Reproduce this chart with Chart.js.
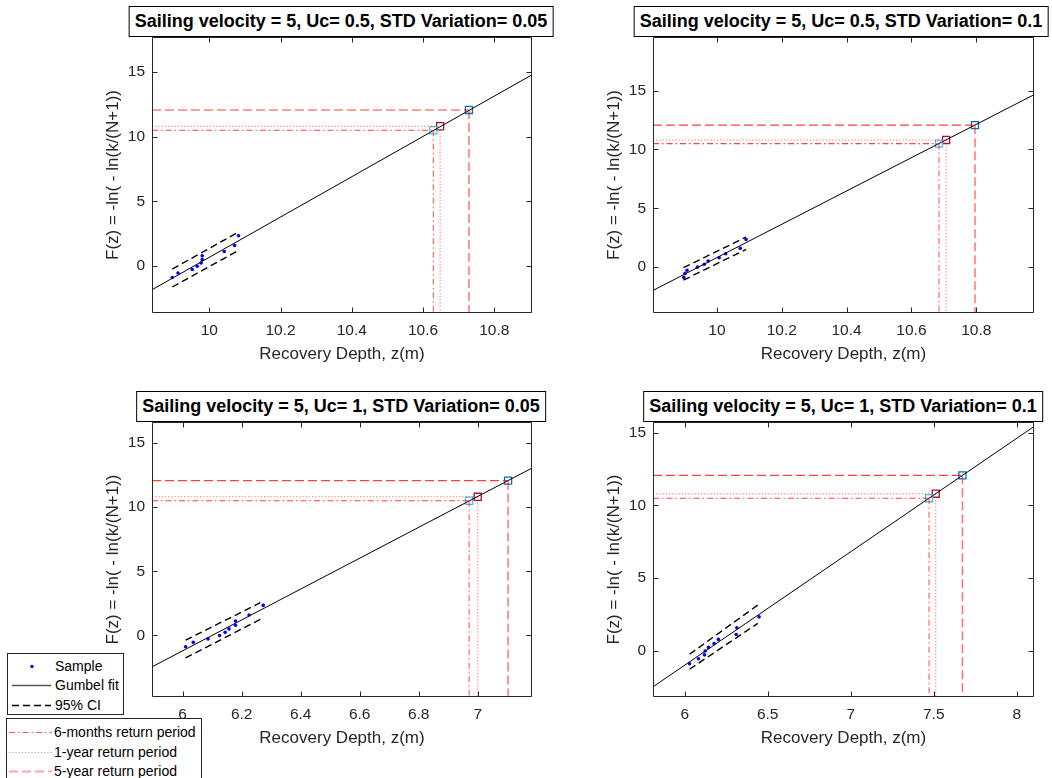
<!DOCTYPE html>
<html><head><meta charset="utf-8">
<script src="https://cdn.jsdelivr.net/npm/chart.js@4.4.1/dist/chart.umd.min.js"></script>
<style>
body{margin:0;width:1052px;height:778px;position:relative;overflow:hidden;background:#fff;font-family:"Liberation Sans",Arial,sans-serif}
.cw{position:absolute}
.title{position:absolute;transform:translateX(-50%);border:1px solid #000;background:#fff;font-weight:bold;font-size:18px;white-space:nowrap;height:31px;box-sizing:border-box;line-height:29px;padding:0 5px;color:#000}
.legend{position:absolute;border:1px solid #262626;background:#fff;font-size:14px;color:#000;box-sizing:border-box}
.legend span{position:absolute;line-height:16px;white-space:nowrap}
</style></head><body>
<div class="cw" id="w1"><canvas id="c1"></canvas></div>
<div class="cw" id="w2"><canvas id="c2"></canvas></div>
<div class="cw" id="w3"><canvas id="c3"></canvas></div>
<div class="cw" id="w4"><canvas id="c4"></canvas></div>

<div class="title" style="left:341px;top:6px">Sailing velocity = 5, Uc= 0.5, STD Variation= 0.05</div>
<div class="title" style="left:841px;top:6px">Sailing velocity = 5, Uc= 0.5, STD Variation= 0.1</div>
<div class="title" style="left:341px;top:391px">Sailing velocity = 5, Uc= 1, STD Variation= 0.05</div>
<div class="title" style="left:843px;top:391px">Sailing velocity = 5, Uc= 1, STD Variation= 0.1</div>

<div class="legend" style="left:7px;top:653px;width:117px;height:62px">
<svg width="117" height="62" style="position:absolute;left:0;top:0">
<circle cx="24" cy="12.5" r="1.7" fill="#0000ff"/>
<line x1="4" y1="31.5" x2="43" y2="31.5" stroke="#555" stroke-width="1.6"/>
<line x1="4" y1="51.5" x2="43" y2="51.5" stroke="#000" stroke-width="1.5" stroke-dasharray="7,4"/>
</svg>
<span style="left:47px;top:4px">Sample</span>
<span style="left:47px;top:23px">Gumbel fit</span>
<span style="left:47px;top:43px">95% CI</span>
</div>
<div class="legend" style="left:6px;top:718px;width:196px;height:64px">
<svg width="196" height="64" style="position:absolute;left:0;top:0">
<line x1="2" y1="13.5" x2="45" y2="13.5" stroke="rgba(255,0,0,0.65)" stroke-width="1.2" stroke-dasharray="6,3,1.5,3"/>
<line x1="2" y1="33.5" x2="45" y2="33.5" stroke="rgba(255,0,0,0.45)" stroke-width="1.2" stroke-dasharray="1.2,2"/>
<line x1="2" y1="52.5" x2="45" y2="52.5" stroke="rgba(255,0,0,0.35)" stroke-width="2" stroke-dasharray="9,4"/>
</svg>
<span style="left:47px;top:5px">6-months return period</span>
<span style="left:47px;top:25px">1-year return period</span>
<span style="left:47px;top:44px">5-year return period</span>
</div>

<script>
// ---------- data ----------
const sampleF = [-0.88, -0.54, -0.27, -0.01, 0.24, 0.51, 0.79, 1.13, 1.59, 2.34];
const returnF = [10.50, 10.81, 12.07];           // 6-months, 1-year, 5-year levels

// Panel 1: Uc=0.5, STD=0.05
const xRange1 = [9.839, 10.906], yRange1 = [-3.63, 17.71];
const xTicks1 = [10, 10.2, 10.4, 10.6, 10.8], yTicks1 = [0, 5, 10, 15];
const sampleX1 = [9.896, 9.912, 9.952, 9.966, 9.977, 9.980, 9.980, 10.042, 10.071, 10.082];
const fitY1 = [-1.83, 14.79];
const ciX1 = [9.896, 10.082], ciUp1 = [-0.23, 2.63], ciLo1 = [-1.62, 1.21];
const returnX1 = [10.629, 10.648, 10.729];

// Panel 2: Uc=0.5, STD=0.1
const xRange2 = [9.803, 10.978], yRange2 = [-3.91, 19.57];
const xTicks2 = [10, 10.2, 10.4, 10.6, 10.8], yTicks2 = [0, 5, 10, 15];
const sampleX2 = [9.898, 9.902, 9.908, 9.940, 9.961, 9.973, 10.007, 10.027, 10.072, 10.090];
const fitY2 = [-1.99, 14.66];
const ciX2 = [9.897, 10.090], ciUp2 = [-0.06, 2.55], ciLo2 = [-1.11, 1.50];
const returnX2 = [10.685, 10.707, 10.796];

// Panel 3: Uc=1, STD=0.05
const xRange3 = [5.896, 7.184], yRange3 = [-4.80, 16.64];
const xTicks3 = [6, 6.2, 6.4, 6.6, 6.8, 7], yTicks3 = [0, 5, 10, 15];
const sampleX3 = [6.010, 6.036, 6.086, 6.125, 6.144, 6.157, 6.179, 6.179, 6.225, 6.273];
const fitY3 = [-2.45, 13.05];
const ciX3 = [6.010, 6.263], ciUp3 = [-0.37, 2.55], ciLo3 = [-1.75, 1.25];
const returnX3 = [6.971, 7.000, 7.103];

// Panel 4: Uc=1, STD=0.1
const xRange4 = [5.809, 8.104], yRange4 = [-3.17, 15.74];
const xTicks4 = [6, 6.5, 7, 7.5, 8], yTicks4 = [0, 5, 10, 15];
const sampleX4 = [6.029, 6.083, 6.119, 6.123, 6.143, 6.177, 6.203, 6.310, 6.314, 6.448];
const fitY4 = [-2.47, 15.43];
const ciX4 = [6.029, 6.440], ciUp4 = [-0.23, 3.15], ciLo4 = [-1.26, 1.89];
const returnX4 = [7.472, 7.512, 7.673];

const xLabel = 'Recovery Depth, z(m)';
const yLabel = 'F(z) = -ln( - ln(k/(N+1))';

// ---------- styling / layout ----------
const FONT = '"Liberation Sans", Arial, sans-serif';
const TXT = '#262626';
const PADL = 52, PADB = 52, PADT = 22, PADR = 14;
const retColors = ['#4DBEEE', '#A2142F', '#0072BD'];
const retDash = [[6,3,1.5,3], [1.2,2], [9,4]];
const retH = ['rgba(255,0,0,0.75)', 'rgba(255,0,0,0.55)', 'rgba(255,0,0,0.75)'];
const retV = ['rgba(255,0,0,0.6)', 'rgba(255,0,0,0.5)', 'rgba(255,0,0,0.55)'];

const boxPlugin = {
  id: 'mbox',
  afterDraw(chart) {
    const {ctx, chartArea: a, scales: {x, y}} = chart;
    ctx.save();
    ctx.strokeStyle = TXT; ctx.lineWidth = 1;
    const l = Math.round(a.left) + 0.5, r = Math.round(a.right) - 0.5;
    const t = Math.round(a.top) + 0.5, b = Math.round(a.bottom) - 0.5;
    ctx.beginPath();
    ctx.rect(l, t, r - l, b - t);
    x.ticks.forEach(tk => {
      const p = Math.round(x.getPixelForValue(tk.value)) + 0.5;
      ctx.moveTo(p, b); ctx.lineTo(p, b - 5);
      ctx.moveTo(p, t); ctx.lineTo(p, t + 5);
    });
    y.ticks.forEach(tk => {
      const p = Math.round(y.getPixelForValue(tk.value)) + 0.5;
      ctx.moveTo(l, p); ctx.lineTo(l + 5, p);
      ctx.moveTo(r, p); ctx.lineTo(r - 5, p);
    });
    ctx.stroke();
    ctx.restore();
  }
};

const fmt = v => String(Number(v.toFixed(3)));
const pts = (xs, ys) => xs.map((v, i) => ({x: v, y: ys[i]}));

function makePanel(id, area, xr, yr, xt, yt, sx, fitY, ciX, ciUp, ciLo, rx) {
  const [L, T, R, B] = area;
  const w = document.getElementById('w' + id);
  const cv = document.getElementById('c' + id);
  const W = (R + PADR) - (L - PADL), H = (B + PADB) - (T - PADT);
  w.style.left = (L - PADL) + 'px'; w.style.top = (T - PADT) + 'px';
  cv.width = W; cv.height = H; cv.style.width = W + 'px'; cv.style.height = H + 'px';

  const datasets = [];
  for (let i = 0; i < 3; i++) {
    datasets.push({data: [{x: xr[0], y: returnF[i]}, {x: rx[i], y: returnF[i]}], showLine: true, pointRadius: 0,
      borderColor: retH[i], borderWidth: 1.1, borderDash: retDash[i]});
    datasets.push({data: [{x: rx[i], y: returnF[i]}, {x: rx[i], y: yr[0]}], showLine: true, pointRadius: 0,
      borderColor: retV[i], borderWidth: i === 2 ? 1.5 : 1.2, borderDash: retDash[i]});
  }
  datasets.push({data: pts(xr, fitY), showLine: true, pointRadius: 0, borderColor: '#000', borderWidth: 1});
  datasets.push({data: pts(ciX, ciUp), showLine: true, pointRadius: 0, borderColor: '#000', borderWidth: 1.4, borderDash: [7,4]});
  datasets.push({data: pts(ciX, ciLo), showLine: true, pointRadius: 0, borderColor: '#000', borderWidth: 1.4, borderDash: [7,4]});
  datasets.push({data: pts(sx, sampleF), showLine: false, pointRadius: 1.8, pointBackgroundColor: '#0000ff', pointBorderWidth: 0, borderColor: '#0000ff'});
  for (let i = 0; i < 3; i++) {
    datasets.push({data: [{x: rx[i], y: returnF[i]}], showLine: false, pointStyle: 'rect', pointRadius: 5,
      pointBorderColor: retColors[i], pointBackgroundColor: 'rgba(0,0,0,0)', pointBorderWidth: 1.3});
  }

  new Chart(cv, {
    type: 'scatter',
    data: {datasets},
    options: {
      responsive: false, animation: false, devicePixelRatio: 1,
      layout: {padding: {left: 0, top: PADT, right: PADR, bottom: 0}},
      plugins: {legend: {display: false}, tooltip: {enabled: false}},
      scales: {
        x: {type: 'linear', min: xr[0], max: xr[1],
          afterBuildTicks: s => { s.ticks = xt.map(v => ({value: v})); },
          afterFit: s => { s.height = PADB; },
          grid: {display: false, drawTicks: false}, border: {display: false},
          ticks: {font: {family: FONT, size: 15.5}, color: TXT, padding: 8, maxRotation: 0, autoSkip: false, callback: v => fmt(v)},
          title: {display: true, text: xLabel, font: {family: FONT, size: 17}, color: TXT, padding: {top: 0, bottom: 0}}
        },
        y: {type: 'linear', min: yr[0], max: yr[1],
          afterBuildTicks: s => { s.ticks = yt.map(v => ({value: v})); },
          afterFit: s => { s.width = PADL; },
          grid: {display: false, drawTicks: false}, border: {display: false},
          ticks: {font: {family: FONT, size: 15.5}, color: TXT, padding: 7, autoSkip: false, callback: v => fmt(v)},
          title: {display: true, text: yLabel, font: {family: FONT, size: 17}, color: TXT, padding: {top: 3, bottom: 0}}
        }
      }
    },
    plugins: [boxPlugin]
  });
}

makePanel(1, [152, 37, 532, 313], xRange1, yRange1, xTicks1, yTicks1, sampleX1, fitY1, ciX1, ciUp1, ciLo1, returnX1);
makePanel(2, [653, 37, 1034, 313], xRange2, yRange2, xTicks2, yTicks2, sampleX2, fitY2, ciX2, ciUp2, ciLo2, returnX2);
makePanel(3, [152, 422, 532, 697], xRange3, yRange3, xTicks3, yTicks3, sampleX3, fitY3, ciX3, ciUp3, ciLo3, returnX3);
makePanel(4, [653, 422, 1034, 697], xRange4, yRange4, xTicks4, yTicks4, sampleX4, fitY4, ciX4, ciUp4, ciLo4, returnX4);
</script>
</body></html>
